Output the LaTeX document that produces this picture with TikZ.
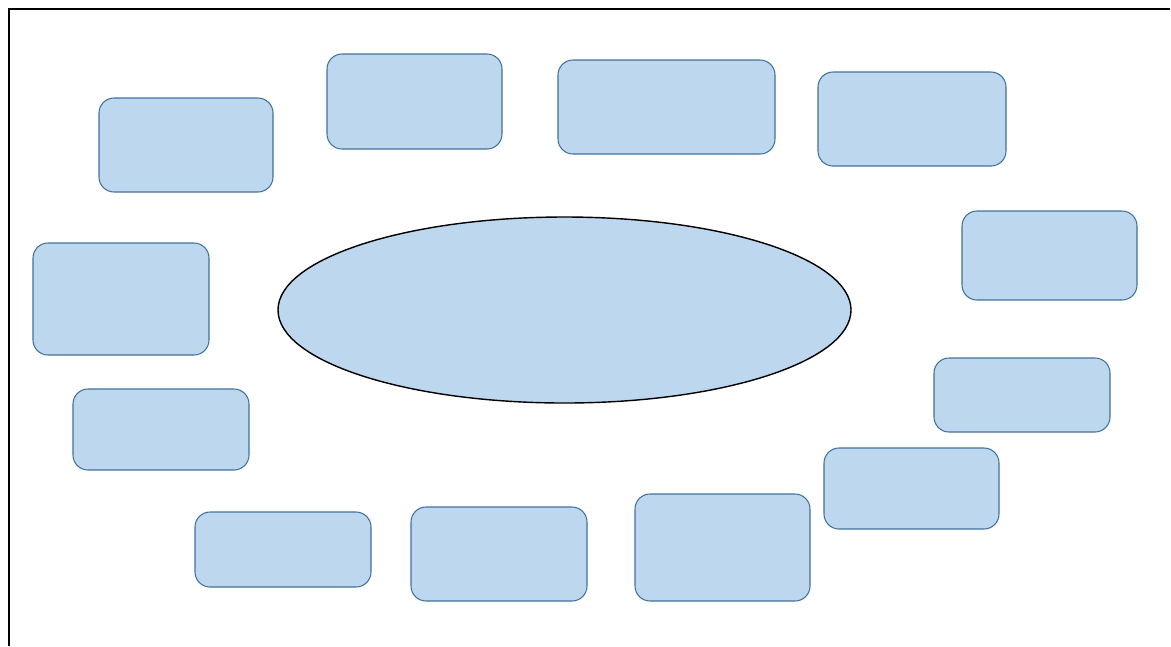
\documentclass[tikz,border=0pt]{standalone}
\usepackage{tikz}
\usetikzlibrary{shapes.geometric}
\definecolor{boxfill}{HTML}{BDD7EE}
\definecolor{boxline}{HTML}{41719C}

\begin{document}
\begin{tikzpicture}[box/.style={draw=boxline,fill=boxfill,rounded corners=0.3cm,inner sep=0pt,line width=0.6pt},
  hub/.style={ellipse,draw=black,fill=boxfill,inner sep=0pt,line width=0.8pt}]
\useasboundingbox (0,0) rectangle (23.42,-12.92);
\coordinate (TL) at (0.18,-0.18);
\coordinate (TR) at (23.40,-0.18);
\coordinate (BL) at (0.18,-12.92);
\draw[line width=0.6pt] (BL) -- (TL) -- (TR);
\node[hub,minimum width=11.46cm,minimum height=3.72cm] (H) at (11.29,-6.2) {};
\node[box,minimum width=3.48cm,minimum height=1.88cm] (A) at (3.72,-2.9) {};
\node[box,minimum width=3.5cm,minimum height=1.9cm] (B) at (8.29,-2.03) {};
\node[box,minimum width=4.34cm,minimum height=1.88cm] (C) at (13.33,-2.14) {};
\node[box,minimum width=3.76cm,minimum height=1.88cm] (D) at (18.24,-2.38) {};
\node[box,minimum width=3.5cm,minimum height=1.78cm] (E) at (20.99,-5.11) {};
\node[box,minimum width=3.52cm,minimum height=1.48cm] (F) at (20.44,-7.9) {};
\node[box,minimum width=3.5cm,minimum height=1.62cm] (G) at (18.23,-9.77) {};
\node[box,minimum width=3.5cm,minimum height=2.14cm] (I) at (14.45,-10.95) {};
\node[box,minimum width=3.52cm,minimum height=1.88cm] (J) at (9.98,-11.08) {};
\node[box,minimum width=3.52cm,minimum height=1.5cm] (K) at (5.66,-10.99) {};
\node[box,minimum width=3.52cm,minimum height=1.62cm] (L) at (3.22,-8.59) {};
\node[box,minimum width=3.52cm,minimum height=2.24cm] (M) at (2.42,-5.98) {};
\end{tikzpicture}
\end{document}
